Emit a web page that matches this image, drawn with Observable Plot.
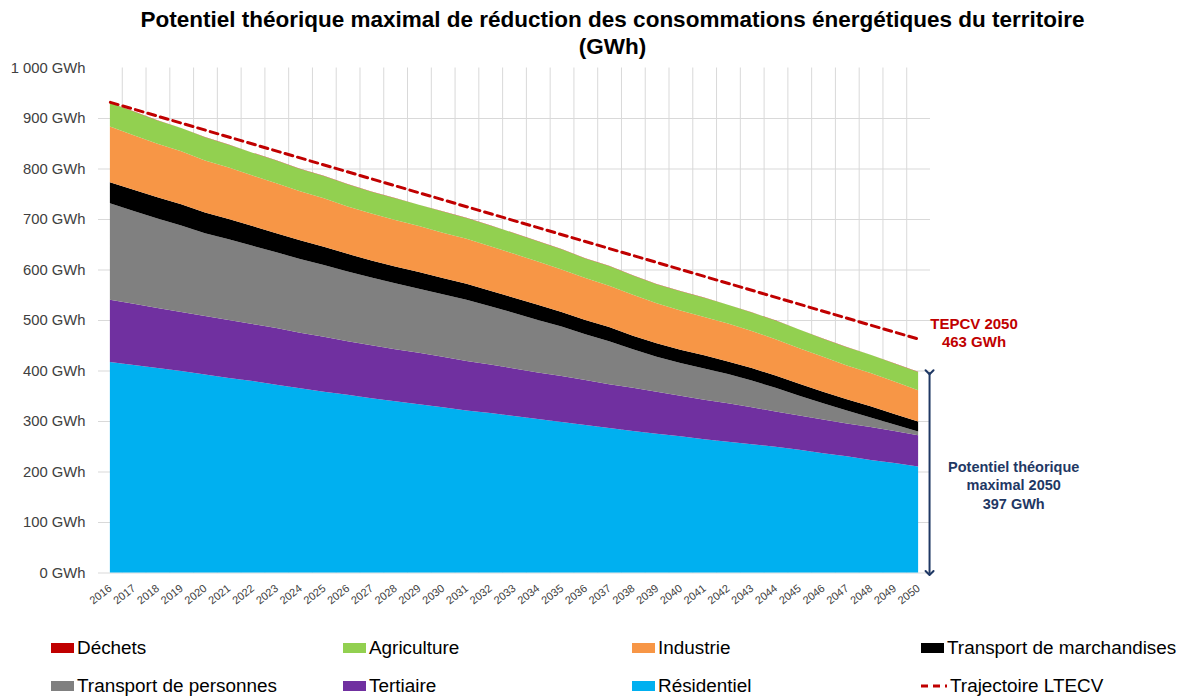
<!DOCTYPE html>
<html><head><meta charset="utf-8">
<script src="https://cdn.jsdelivr.net/npm/d3@7"></script>
<script src="https://cdn.jsdelivr.net/npm/@observablehq/plot@0.6"></script>
<style>
body{margin:0;background:#fff;font-family:"Liberation Sans",Arial,sans-serif;}
#wrap{position:relative;width:1184px;height:698px;overflow:hidden;background:#fff;}
#chart{position:absolute;left:0;top:0;}
#title{position:absolute;left:0;top:6px;width:1225px;text-align:center;font-weight:bold;font-size:22.5px;line-height:27px;color:#000;}
.leg{position:absolute;display:flex;align-items:center;font-size:18.9px;color:#000;white-space:nowrap;}
.sw{width:23px;height:10px;margin-right:3px;}
</style></head>
<body><div id="wrap"><div id="chart"></div><div id="title">Potentiel théorique maximal de réduction des consommations énergétiques du territoire<br>(GWh)</div><div id="legend"></div></div>
<script>
const years = [2016,2017,2018,2019,2020,2021,2022,2023,2024,2025,2026,2027,2028,2029,2030,2031,2032,2033,2034,2035,2036,2037,2038,2039,2040,2041,2042,2043,2044,2045,2046,2047,2048,2049,2050];
const residentiel = [417,411,405,399,392,385,379,372,365,358,352,345,339,333,327,321,316,310,304,298,292,286,280,275,270,264,259,254,249,243,236,230,223,217,210];
const tertiaire = [123,121,119,117,116,115,113,112,110,109,106,105,103,102,100,98,96,94,92,91,89,87,86,83,80,78,76,73,70,68,67,65,65,63,62];
const transportPersonnes = [191,184,177,171,164,160,155,150,146,142,138,134,131,127,124,121,115,110,104,98,91,85,76,69,65,62,58,53,47,39,32,26,19,13,7];
const transportMarchandises = [42,42,42,42,41,40,39,38,37,36,35,34,33,33,32,32,31,30,30,29,28,28,27,27,26,26,25,25,24,24,23,22,22,21,20];
const industrie = [110,108,106,105,103,102,100,99,97,96,94,93,92,91,90,89,88,87,86,84,83,82,81,79,78,76,75,73,72,70,69,67,66,64,62];
const agriculture = [47,47,46,46,46,45,45,45,44,44,44,43,43,42,42,41,41,41,40,40,39,39,38,38,38,38,37,37,37,37,36,36,36,36,36];
const dechets = [0.4,0.4,0.4,0.4,0.4,0.4,0.4,0.4,0.4,0.4,0.4,0.4,0.4,0.4,0.4,0.4,0.4,0.4,0.4,0.4,0.4,0.4,0.4,0.4,0.4,0.4,0.4,0.4,0.4,0.4,0.4,0.4,0.4,0.4,0.4];
const ltecvYears = [2016, 2050];
const ltecvValues = [932, 463];
const yTicks = [0,100,200,300,400,500,600,700,800,900,1000];
const yTickLabels = ["0 GWh","100 GWh","200 GWh","300 GWh","400 GWh","500 GWh","600 GWh","700 GWh","800 GWh","900 GWh","1 000 GWh"];
const seriesNames = ["Résidentiel","Tertiaire","Transport de personnes","Transport de marchandises","Industrie","Agriculture","Déchets"];
const seriesColors = ["#00B0F0","#7030A0","#808080","#000000","#F79646","#92D050","#C00000"];
const legendOrder = ["Déchets","Agriculture","Industrie","Transport de marchandises","Transport de personnes","Tertiaire","Résidentiel","Trajectoire LTECV"];
const tepcvLabel = "TEPCV 2050\n463 GWh";
const potentielLabel = "Potentiel théorique\nmaximal 2050\n397 GWh";

const seriesValues = [residentiel,tertiaire,transportPersonnes,transportMarchandises,industrie,agriculture,dechets];
const table = [];
seriesNames.forEach((name,i)=>years.forEach((yr,j)=>table.push({year:yr,series:name,value:seriesValues[i][j]})));
const ltecv = ltecvYears.map((yr,i)=>({year:yr,value:ltecvValues[i]}));
const lastIdx = years.length-1;
const total2050 = seriesValues.reduce((s,a)=>s+a[lastIdx],0);
const bounds = years.slice(1).map(y=>y-0.5);
const xMin = years[0]-0.5, xMax = years[lastIdx]+0.5;

const chart = Plot.plot({
  width:1184, height:698,
  marginTop:67.5, marginBottom:125.5, marginLeft:98, marginRight:254,
  style:{fontFamily:'"Liberation Sans",Arial,sans-serif', background:"transparent"},
  x:{type:"linear", domain:[xMin,xMax], label:null, axis:null},
  y:{domain:[0,1000], label:null, axis:null},
  color:{domain:seriesNames, range:seriesColors},
  marks:[
    Plot.gridX(bounds,{stroke:"#d9d9d9",strokeOpacity:1}),
    Plot.gridY(yTicks.filter(d=>d<1000),{stroke:"#d9d9d9",strokeOpacity:1}),
    Plot.areaY(table, Plot.stackY({x:"year", y:"value", fill:"series", order:seriesNames})),
    Plot.line(ltecv,{x:"year",y:"value",stroke:"#C00000",strokeWidth:3,strokeDasharray:"8,5"}),
    Plot.axisY(yTicks,{tickFormat:(d)=>yTickLabels[yTicks.indexOf(d)],tickSize:0,tickPadding:13,fontSize:14.8,fill:"#404040",label:null}),
    Plot.axisX(years,{tickFormat:d=>String(d),tickRotate:-38,tickSize:0,tickPadding:14,fontSize:11,fill:"#404040",label:null}),
    Plot.link([{y1:total2050,y2:0}],{x1:()=>xMax-0.04,x2:()=>xMax-0.04,y1:"y1",y2:"y2",stroke:"#1F3864",strokeWidth:2,markerStart:"arrow",markerEnd:"arrow"}),
    Plot.text([tepcvLabel],{x:()=>xMax+1.83,y:()=>ltecvValues[1],dy:-7,text:d=>d,fill:"#C00000",fontWeight:"bold",fontSize:15,lineHeight:1.22,textAnchor:"middle"}),
    Plot.text([potentielLabel],{x:()=>xMax+3.5,y:()=>170,dy:-3,text:d=>d,fill:"#1F3864",fontWeight:"bold",fontSize:14.5,lineHeight:1.28,textAnchor:"middle"})
  ]
});
document.getElementById("chart").appendChild(chart);

const colorOf = n => seriesColors[seriesNames.indexOf(n)];
const cols = [51,343,632,921], rows = [648,686];
const leg = document.getElementById("legend");
legendOrder.forEach((n,i)=>{
  const d = document.createElement("div");
  d.className="leg";
  d.style.left = cols[i%4]+"px";
  d.style.top = (rows[Math.floor(i/4)]-11)+"px";
  d.style.height="22px";
  let sw;
  if(n==="Trajectoire LTECV"){
    sw = `<svg width="26" height="10" style="margin-right:3px"><line x1="0" y1="5" x2="26" y2="5" stroke="#C00000" stroke-width="3" stroke-dasharray="7,5"/></svg>`;
  } else {
    sw = `<div class="sw" style="background:${colorOf(n)}"></div>`;
  }
  d.innerHTML = sw + `<span>${n}</span>`;
  leg.appendChild(d);
});
</script></body></html>
